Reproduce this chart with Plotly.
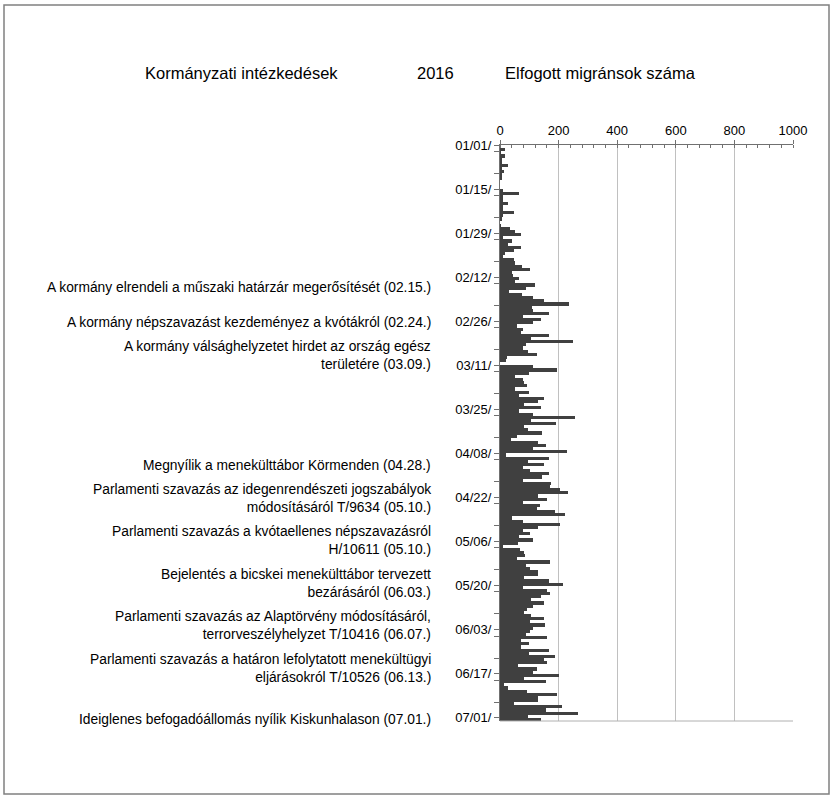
import plotly.graph_objects as go
import pandas as pd

# ---- data (daily counts, 2016) ----
jan = [0,17,3,17,5,5,28,5,14,7,5,0,0,0,10,65,9,10,28,9,11,48,11,5,0,2,34,51,71,11,40]
feb = [28,71,48,17,9,48,51,74,103,40,43,66,51,118,88,32,74,114,151,237,108,112,166,78,140,111,59,78,71]
mar = [166,105,248,89,78,95,126,25,20,0,111,194,99,51,78,83,91,51,99,65,151,129,83,140,66,114,255,106,192,83,95]
apr = [143,59,38,131,158,112,229,20,166,97,151,80,103,166,143,77,174,171,206,232,131,162,80,135,126,189,221,40,78,206]
may = [129,80,103,66,111,63,11,69,83,87,59,169,89,103,131,128,83,166,214,77,162,169,140,106,151,114,91,83,106,151,103]
jun = [154,114,103,88,162,72,99,72,166,99,189,151,162,63,126,114,200,83,158,15,28,91,194,129,129,48,211,158,265,95]
jul = [140]

values = jan + feb + mar + apr + may + jun + jul
start = "2016-01-01"
dates = pd.date_range(start, periods=len(values), freq="D") + pd.Timedelta(hours=12)

events = [
    "A kormány elrendeli a műszaki határzár megerősítését (02.15.)",
    "A kormány népszavazást kezdeményez a kvótákról (02.24.)",
    "A kormány válsághelyzetet hirdet az ország egész<br>területére (03.09.)",
    "Megnyílik a menekülttábor Körmenden (04.28.)",
    "Parlamenti szavazás az idegenrendészeti jogszabályok<br>módosításáról T/9634 (05.10.)",
    "Parlamenti szavazás a kvótaellenes népszavazásról<br>H/10611 (05.10.)",
    "Bejelentés a bicskei menekülttábor tervezett<br>bezárásáról (06.03.)",
    "Parlamenti szavazás az Alaptörvény módosításáról,<br>terrorveszélyhelyzet T/10416 (06.07.)",
    "Parlamenti szavazás a határon lefolytatott menekültügyi<br>eljárásokról T/10526 (06.13.)",
    "Ideiglenes befogadóállomás nyílik Kiskunhalason (07.01.)",
]
event_px_y = [287, 322, 355, 465, 498, 540, 583, 625, 668, 719]

titles = ["Kormányzati intézkedések", "2016", "Elfogott migránsok száma"]
title_px_x = [241, 435, 600]

# ---- layout geometry ----
W, H = 834, 800
L, R, T, B = 500, 41, 145, 79
pw, ph = W - L - R, H - T - B

def px(x):
    return (x - L) / pw

def py(y):
    return (H - B - y) / ph

FONT = "Liberation Sans, Arial, sans-serif"

fig = go.Figure(go.Bar(
    x=values, y=dates, orientation="h",
    marker=dict(color="#404040", line=dict(width=0)),
    hoverinfo="x+y",
))

annotations = []
for txt, y in zip(events, event_px_y):
    annotations.append(dict(
        text=txt, xref="paper", yref="paper", x=px(433), y=py(y),
        xanchor="right", yanchor="middle", align="right", showarrow=False,
        font=dict(family=FONT, size=13.8, color="#000000"),
    ))
for txt, x in zip(titles, title_px_x):
    annotations.append(dict(
        text=txt, xref="paper", yref="paper", x=px(x), y=py(73),
        xanchor="center", yanchor="middle", showarrow=False,
        font=dict(family=FONT, size=16.5, color="#000000"),
    ))

shapes = [
    # chart-area border
    dict(type="rect", xref="paper", yref="paper",
         x0=px(4), x1=px(829), y0=py(794), y1=py(5),
         line=dict(color="#808080", width=1.5), fillcolor="rgba(0,0,0,0)", layer="below"),
    # bottom plot edge
    dict(type="line", xref="paper", yref="paper", x0=0, x1=1, y0=0, y1=0,
         line=dict(color="#b0b0b0", width=1)),
]

fig.update_layout(
    width=W, height=H,
    margin=dict(l=L, r=R, t=T, b=B),
    paper_bgcolor="white", plot_bgcolor="white",
    bargap=0, showlegend=False,
    font=dict(family=FONT, size=12, color="#000000"),
    annotations=annotations, shapes=shapes,
    xaxis=dict(
        side="top", range=[0, 1000], dtick=200, tick0=0,
        showgrid=True, gridcolor="#c0c0c0", gridwidth=1,
        showline=True, linecolor="#707070", linewidth=1,
        ticks="outside", ticklen=4, tickcolor="#707070",
        minor=dict(dtick=40, ticks="inside", ticklen=3, tickcolor="#707070", showgrid=False),
        tickfont=dict(family=FONT, size=13),
        zeroline=False, fixedrange=True,
    ),
    yaxis=dict(
        type="date", range=["2016-07-02", "2016-01-01"],
        tick0="2016-01-01", dtick=14 * 86400000, tickformat="%m/%d/",
        showgrid=False, showline=True, linecolor="#707070", linewidth=1,
        ticks="outside", ticklen=5, tickcolor="#707070",
        minor=dict(dtick=7 * 86400000, ticks="outside", ticklen=5, tickcolor="#707070", showgrid=False),
        tickfont=dict(family=FONT, size=13),
        fixedrange=True,
    ),
)

fig.write_html(
    "out.html",
    config={"displayModeBar": False},
    post_script="document.body.style.margin='0';document.body.style.overflow='hidden';",
)
